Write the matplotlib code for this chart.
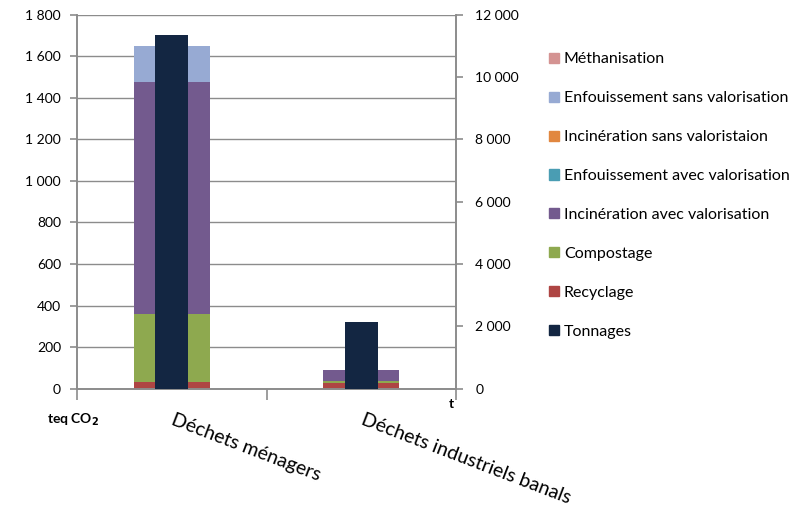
import numpy as np
import matplotlib
matplotlib.use("Agg")
import matplotlib.pyplot as plt
from matplotlib.patches import Patch
from matplotlib.ticker import FuncFormatter

plt.rcParams['font.family'] = ['Lato', 'DejaVu Sans']

# Data
categories = ["Déchets ménagers", "Déchets industriels banals"]
recyclage = [34, 27]
compostage = [325, 11]
incineration_avec = [1118, 52]
enfouissement_avec = [0, 0]
incineration_sans = [0, 0]
enfouissement_sans = [171, 0]
methanisation = [0, 0]
tonnages = [11340, 2140]

series = [
    ("Recyclage", recyclage, "#AE4543"),
    ("Compostage", compostage, "#8EA94F"),
    ("Incinération avec valorisation", incineration_avec, "#735A8E"),
    ("Enfouissement avec valorisation", enfouissement_avec, "#4A9DB3"),
    ("Incinération sans valoristaion", incineration_sans, "#E1873F"),
    ("Enfouissement sans valorisation", enfouissement_sans, "#97AAD3"),
    ("Méthanisation", methanisation, "#D49392"),
]
tonnage_color = "#132642"
grey = "#8C8C8C"

fig = plt.figure(figsize=(8.01, 5.08), dpi=100)
ax = fig.add_axes([77 / 801, 1 - 388.7 / 508, 379 / 801, 374.2 / 508])
ax2 = ax.twinx()

x = np.arange(len(categories))
bottom = np.zeros(len(categories))
for name, vals, col in series:
    ax.bar(x, vals, 0.4, bottom=bottom, color=col, zorder=2)
    bottom += np.array(vals)

ax2.bar(x, tonnages, 0.175, color=tonnage_color, zorder=3)

ax.set_xlim(-0.5, 1.5)
ax.set_ylim(0, 1800)
ax2.set_ylim(0, 12000)
ax.set_yticks(np.arange(0, 1801, 200))
ax2.set_yticks(np.arange(0, 12001, 2000))

fmt = FuncFormatter(lambda v, p: f"{int(v):,}".replace(",", " "))
ax.yaxis.set_major_formatter(fmt)
ax2.yaxis.set_major_formatter(fmt)

ax.yaxis.grid(True, color=grey, lw=1, zorder=0)
ax.set_axisbelow(True)

for a in (ax, ax2):
    a.spines['top'].set_visible(False)
    for s in ('left', 'right', 'bottom'):
        a.spines[s].set_color(grey)
        a.spines[s].set_linewidth(1.2)

ax.tick_params(axis='y', colors=grey, length=5, width=1.2, labelcolor='black',
               labelsize=10, pad=6.5)
ax2.tick_params(axis='y', colors=grey, length=5, width=1.2, labelcolor='black',
                labelsize=10, pad=9)
ax.set_xticks([-0.5, 0.5, 1.5])
ax.set_xticklabels([])
ax.tick_params(axis='x', colors=grey, length=8, width=1.2)

# category labels, rotated
for i, cat in enumerate(categories):
    ax.text(i + 0.02, -0.06, cat, transform=ax.get_xaxis_transform(),
            rotation=-21, rotation_mode='anchor', ha='left', va='top',
            fontsize=14)

fig.text(47 / 801, 1 - 420 / 508, "teq CO$_\\mathbf{2}$", fontsize=10, fontweight='bold',
         ha='left', va='center')
fig.text(451 / 801, 1 - 404 / 508, "t", fontsize=10, fontweight='bold', ha='center', va='center')

handles = [Patch(color=col, label=name) for name, vals, col in series[::-1]]
handles.append(Patch(color=tonnage_color, label="Tonnages"))
fig.legend(handles=handles, loc='upper left', bbox_to_anchor=(543 / 801, 1 - 46 / 508),
           frameon=False, fontsize=11.5, handlelength=0.6, handleheight=0.6,
           handletextpad=0.3, labelspacing=1.56, borderaxespad=0)

fig.savefig("out.png", dpi=100)
